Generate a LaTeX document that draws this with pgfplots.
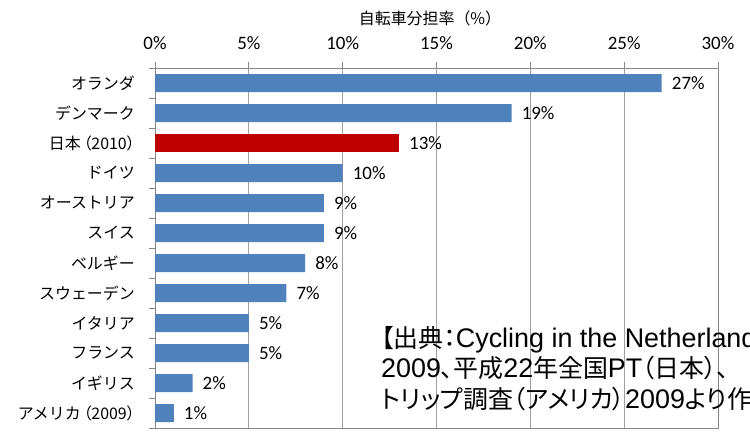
\documentclass[border=0pt]{standalone}
\usepackage{fontspec}
\usepackage{pgfplots}
\pgfplotsset{compat=1.18}
\setmainfont{Carlito}
\newfontfamily\jp{Noto Sans CJK JP}
\newfontfamily\jpp[RawFeature=+palt]{Noto Sans CJK JP}
\newfontfamily\arial{Liberation Sans}
\definecolor{barblue}{HTML}{4F81BD}
\definecolor{barred}{HTML}{C00000}
\definecolor{gridgray}{HTML}{A0A0A0}
\definecolor{axgray}{HTML}{868686}
\newcommand{\lat}[1]{{\arial\fontsize{27}{27}\selectfont #1}}
\newcommand{\ja}[1]{{\jpp\fontsize{25}{25}\selectfont #1}}
\newcommand{\pl}[1]{{\jpp #1}}
\begin{document}
\begin{tikzpicture}
\path[use as bounding box] (0,0) rectangle (750bp,433bp);
\begin{axis}[
  at={(155bp,5bp)}, anchor=south west,
  scale only axis, width=563bp, height=360bp,
  xmin=0, xmax=30, ymin=-0.5, ymax=11.5, y dir=reverse,
  xtick={0,5,...,30},
  xticklabels={0\%,5\%,10\%,15\%,20\%,25\%,30\%},
  xtick pos=right, xticklabel pos=right,
  ytick={0,...,11},
  yticklabels={オランダ,デンマーク,日本\,\pl{（}2010\pl{）},ドイツ,オーストリア,スイス,ベルギー,スウェーデン,イタリア,フランス,イギリス,アメリカ\,\pl{（}2009\pl{）}},
  ytick pos=left,
  minor ytick={-0.5,0.5,...,11.5},
  tick align=outside, major tick length=6bp, minor tick length=6bp,
  major y tick style={draw=none},
  minor y tick style={draw=axgray, line width=1bp},
  major x tick style={draw=axgray, line width=1bp},
  xmajorgrids, major x grid style={draw=gridgray, line width=0.8bp},
  axis line style={draw=axgray, line width=1bp},
  xticklabel style={font=\fontsize{19}{19}\selectfont, anchor=base, inner sep=0pt, yshift=13bp},
  yticklabel style={font=\jp\fontsize{16}{16}\selectfont, anchor=east, inner sep=0pt, xshift=-14bp},
  point meta=x,
  nodes near coords={\pgfmathprintnumber[assume math mode=true]{\pgfplotspointmeta}\%},
  every node near coord/.append style={font=\fontsize{19}{19}\selectfont, anchor=west, inner sep=0pt, xshift=10bp, text=black},
  clip=false,
]
\addplot[xbar, bar width=18bp, bar shift=0pt, fill=barblue, draw=none]
  coordinates {(27,0) (19,1) (10,3) (9,4) (9,5) (8,6) (7,7) (5,8) (5,9) (2,10) (1,11)};
\addplot[xbar, bar width=18bp, bar shift=0pt, fill=barred, draw=none]
  coordinates {(13,2)};
\end{axis}
\node[font=\jp\fontsize{16}{16}\selectfont] at (430bp,415bp) {自転車分担率（\%）};
\begin{scope}
\clip (0,0) rectangle (750bp,433bp);
\node[anchor=base west, inner sep=0pt] at (381bp,85bp)
  {\ja{【出典：}\lat{Cycling in the Netherlands}};
\node[anchor=base west, inner sep=0pt] at (381bp,55bp)
  {\lat{2009}\ja{、平成}\lat{22}\ja{年全国}\lat{PT}\ja{（日本）、}};
\node[anchor=base west, inner sep=0pt] at (381bp,25bp)
  {\ja{トリップ調査（アメリカ）}\lat{2009}\ja{より作成】}};
\end{scope}
\end{tikzpicture}
\end{document}
